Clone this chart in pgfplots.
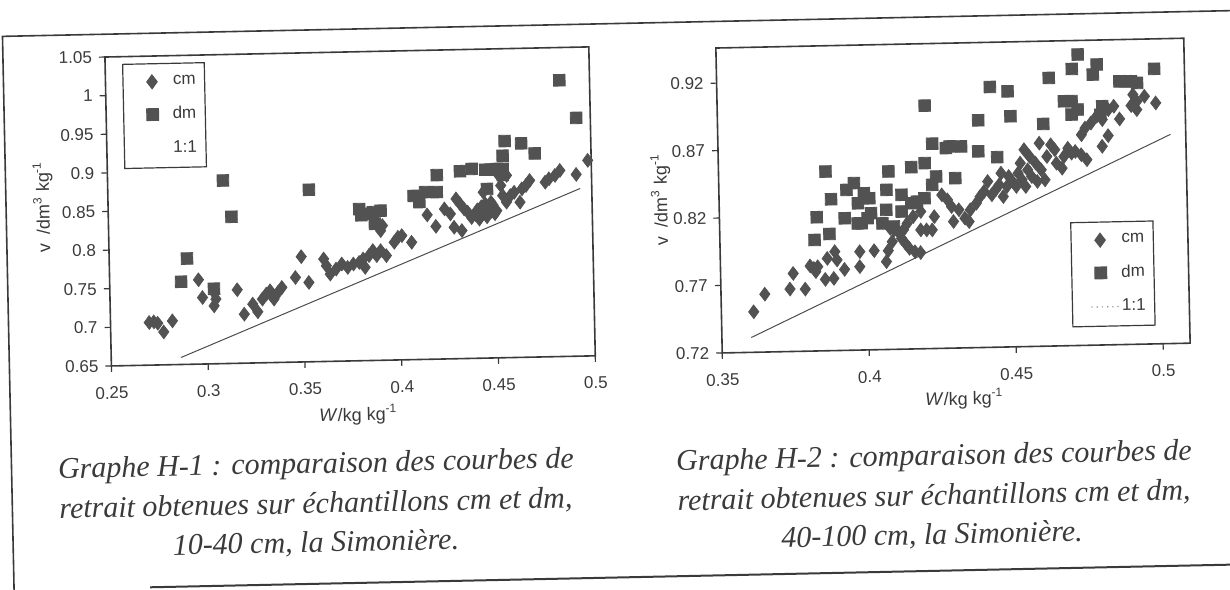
\documentclass[border=0pt]{standalone}
\usepackage{fontspec}
\setmainfont{Liberation Sans}
\newfontfamily\capfont{Liberation Serif}
\usepackage{pgfplots}
\pgfplotsset{compat=1.18}

\definecolor{ink}{HTML}{3A3A3A}
\definecolor{markgray}{HTML}{525252}

\pgfplotsset{
  shrink/.style={
    scale only axis,
    axis line style={line width=0.8pt, draw=ink},
    tick style={line width=0.6pt, draw=ink},
    tick align=outside, major tick length=3pt,
    xtick pos=bottom, ytick pos=left,
    ticklabel style={font=\fontsize{8.5}{10}\selectfont, text=ink},
    xticklabel style={yshift=-4pt},
    label style={font=\fontsize{9}{10}\selectfont, text=ink},
    legend style={draw=ink, line width=0.6pt, fill=white,
      font=\fontsize{8.5}{10}\selectfont, text=ink,
      inner xsep=3.5pt, inner ysep=4pt, row sep=5.5pt,
      nodes={inner xsep=1pt, inner ysep=2pt},
      /tikz/every even column/.append style={column sep=2.5pt}},
    legend cell align=right,
  },
  cm/.style={only marks, mark=diamond*, mark size=3.4pt,
    mark options={fill=markgray, draw=markgray},
    legend image code/.code={\path[draw=none, fill=none] (0pt,0pt) -- (20pt,0pt);
      \draw[##1] plot coordinates {(11pt,0pt)};}},
  dm/.style={only marks, mark=square*, mark size=2.9pt,
    mark options={fill=markgray, draw=markgray},
    legend image code/.code={\path[draw=none, fill=none] (0pt,0pt) -- (20pt,0pt);
      \draw[##1] plot coordinates {(11pt,0pt)};}},
  oneone/.style={no marks, line width=0.5pt, draw=black!70},
}

\begin{document}
\begin{tikzpicture}
\useasboundingbox (0,0) rectangle (615pt,294.5pt);
\begin{scope}[transform canvas={rotate around={1.2:(307.5pt,147.25pt)}}]

% page frame
\draw[line width=0.8pt, ink] (4pt,-10pt) -- (4pt,282.7pt) -- (630pt,282.7pt);
\draw[line width=1pt, ink] (72pt,5.75pt) -- (630pt,5.75pt);

% ---------- Graphe H-1 ----------
\begin{axis}[shrink,
  at={(55pt,116.8pt)}, anchor=south west,
  width=242pt, height=154.5pt,
  xmin=0.25, xmax=0.5, ymin=0.65, ymax=1.05,
  xtick={0.25,0.3,0.35,0.4,0.45,0.5},
  xticklabels={0.25,0.3,0.35,0.4,0.45,0.5},
  ytick={0.65,0.7,0.75,0.8,0.85,0.9,0.95,1,1.05},
  yticklabels={0.65,0.7,0.75,0.8,0.85,0.9,0.95,1,1.05},
  xlabel={\textit{W}/kg kg\textsuperscript{-1}},
  ylabel={v\enspace/dm\textsuperscript{3} kg\textsuperscript{-1}},
  xlabel style={at={(axis description cs:0.508,0)}, anchor=center, yshift=-27pt},
  ylabel style={at={(axis description cs:-0.134,0.519)}, anchor=center},
  legend style={at={(0.035,0.977)}, anchor=north west},
]
\addplot[cm] table {
0.2700 0.7052
0.2724 0.7059
0.2744 0.7040
0.2774 0.6926
0.2820 0.7067
0.2959 0.7592
0.2978 0.7361
0.3038 0.7422
0.3047 0.7337
0.3037 0.7250
0.3158 0.7452
0.3192 0.7134
0.3237 0.7262
0.3262 0.7161
0.3287 0.7324
0.3308 0.7388
0.3328 0.7430
0.3338 0.7365
0.3347 0.7321
0.3368 0.7405
0.3389 0.7470
0.3460 0.7595
0.3492 0.7863
0.3529 0.7527
0.3608 0.7827
0.3621 0.7739
0.3640 0.7630
0.3671 0.7693
0.3701 0.7757
0.3731 0.7711
0.3761 0.7754
0.3791 0.7773
0.3812 0.7816
0.3821 0.7707
0.3842 0.7858
0.3863 0.7922
0.3882 0.7856
0.3903 0.7919
0.3932 0.7853
0.3905 0.8178
0.3915 0.8243
0.3974 0.8024
0.3994 0.8088
0.4014 0.8108
0.4064 0.8019
0.4147 0.8369
0.4191 0.8219
0.4237 0.8442
0.4267 0.8376
0.4298 0.8569
0.4318 0.8503
0.4285 0.8202
0.4325 0.8157
0.4338 0.8437
0.4357 0.8394
0.4376 0.8323
0.4397 0.8362
0.4407 0.8421
0.4416 0.8301
0.4428 0.8460
0.4437 0.8380
0.4448 0.8499
0.4456 0.8329
0.4467 0.8438
0.4477 0.8397
0.4488 0.8477
0.4497 0.8366
0.4439 0.8648
0.4478 0.8517
0.4521 0.8861
0.4561 0.8859
0.4530 0.8730
0.4539 0.8600
0.4507 0.8405
0.4558 0.8513
0.4579 0.8597
0.4599 0.8639
0.4628 0.8509
0.4639 0.8681
0.4660 0.8723
0.4680 0.8787
0.4760 0.8761
0.4780 0.8804
0.4811 0.8845
0.4837 0.8909
0.4921 0.8853
0.4982 0.9032
};
\addlegendentry{cm}
\addplot[dm] table {
0.4844 1.0076
0.4927 0.9585
0.4555 0.9304
0.4640 0.9270
0.4543 0.9115
0.4709 0.9136
0.4321 0.8926
0.4382 0.8953
0.4452 0.8939
0.4482 0.8938
0.4512 0.8946
0.4542 0.8945
0.4541 0.8865
0.4201 0.8882
0.4459 0.8689
0.4079 0.8619
0.4108 0.8537
0.4139 0.8665
0.4199 0.8662
0.3096 0.8870
0.3539 0.8727
0.3136 0.8398
0.3797 0.8463
0.3837 0.8401
0.3867 0.8420
0.3907 0.8437
0.3807 0.8383
0.3876 0.8269
0.2902 0.7870
0.2869 0.7571
0.3038 0.7472
};
\addlegendentry{dm}
\addplot[oneone, legend image code/.code={\path[draw=none, fill=none] (0pt,0pt) -- (20pt,0pt);}] table {
0.286 0.659
0.494 0.867
};
\addlegendentry{1:1}
\end{axis}

% ---------- Graphe H-2 ----------
\begin{axis}[shrink,
  at={(360.5pt,116.9pt)}, anchor=south west,
  width=234pt, height=152.5pt,
  xmin=0.35, xmax=0.5092, ymin=0.72, ymax=0.946,
  xtick={0.35,0.4,0.45,0.5},
  xticklabels={0.35,0.4,0.45,0.5},
  ytick={0.72,0.77,0.82,0.87,0.92},
  yticklabels={0.72,0.77,0.82,0.87,0.92},
  xlabel={\textit{W}/kg kg\textsuperscript{-1}},
  ylabel={v\enspace/dm\textsuperscript{3} kg\textsuperscript{-1}},
  xlabel style={at={(axis description cs:0.515,0)}, anchor=center, yshift=-25.5pt},
  ylabel style={at={(axis description cs:-0.124,0.506)}, anchor=center},
  legend style={at={(0.749,0.405)}, anchor=north west},
]
\addplot[cm] table {
0.3610 0.7500
0.3649 0.7629
0.3735 0.7663
0.3747 0.7778
0.3787 0.7660
0.3805 0.7831
0.3818 0.7812
0.3831 0.7824
0.3824 0.7788
0.3856 0.7729
0.3864 0.7884
0.3890 0.7933
0.3897 0.7871
0.3885 0.7735
0.3922 0.7800
0.3975 0.7929
0.3974 0.7818
0.4024 0.7934
0.4065 0.7851
0.4072 0.7932
0.4086 0.7998
0.4093 0.8085
0.4080 0.8097
0.4106 0.8072
0.4118 0.8021
0.4131 0.7983
0.4144 0.7946
0.4163 0.7920
0.4182 0.7913
0.4125 0.8083
0.4138 0.8131
0.4159 0.8181
0.4185 0.8217
0.4184 0.8081
0.4204 0.8080
0.4223 0.8079
0.4231 0.8177
0.4258 0.8337
0.4277 0.8299
0.4290 0.8249
0.4296 0.8138
0.4315 0.8224
0.4335 0.8161
0.4349 0.8135
0.4354 0.8222
0.4375 0.8270
0.4388 0.8318
0.4402 0.8356
0.4415 0.8429
0.4428 0.8330
0.4441 0.8366
0.4454 0.8403
0.4461 0.8489
0.4467 0.8315
0.4480 0.8389
0.4487 0.8463
0.4499 0.8425
0.4512 0.8388
0.4519 0.8486
0.4527 0.8560
0.4532 0.8436
0.4544 0.8386
0.4552 0.8509
0.4559 0.8608
0.4541 0.8659
0.4565 0.8459
0.4579 0.8558
0.4584 0.8422
0.4593 0.8705
0.4598 0.8507
0.4610 0.8432
0.4618 0.8605
0.4632 0.8691
0.4645 0.8654
0.4650 0.8554
0.4669 0.8516
0.4676 0.8602
0.4690 0.8663
0.4702 0.8626
0.4715 0.8638
0.4735 0.8613
0.4754 0.8575
0.4737 0.8761
0.4750 0.8810
0.4770 0.8846
0.4790 0.8896
0.4809 0.8870
0.4830 0.8943
0.4849 0.8967
0.4807 0.8672
0.4828 0.8750
0.4868 0.8872
0.4908 0.8969
0.4915 0.9050
0.4927 0.8938
0.4954 0.9036
0.4992 0.8985
0.4928 0.9000
};
\addlegendentry{cm}
\addplot[dm] table {
0.4730 0.9356
0.4709 0.9250
0.4794 0.9279
0.4780 0.9205
0.4630 0.9187
0.4989 0.9238
0.4870 0.9151
0.4890 0.9150
0.4910 0.9149
0.4930 0.9136
0.4429 0.9129
0.4489 0.9094
0.4206 0.9001
0.4680 0.9012
0.4706 0.9011
0.4726 0.8948
0.4705 0.8912
0.4810 0.8969
0.4803 0.8907
0.4497 0.8909
0.4387 0.8884
0.4608 0.8847
0.4229 0.8718
0.4275 0.8683
0.4288 0.8695
0.4327 0.8693
0.4385 0.8654
0.4449 0.8608
0.4202 0.8575
0.4156 0.8547
0.4078 0.8519
0.3864 0.8528
0.4240 0.8474
0.4226 0.8413
0.4305 0.8459
0.3960 0.8438
0.3934 0.8389
0.3993 0.8361
0.4011 0.8323
0.4070 0.8383
0.3881 0.8322
0.3972 0.8288
0.4068 0.8235
0.4121 0.8344
0.4120 0.8220
0.4154 0.8280
0.4173 0.8291
0.4199 0.8315
0.4016 0.8212
0.4004 0.8176
0.3983 0.8139
0.3970 0.8139
0.4054 0.8135
0.4093 0.8110
0.3926 0.8179
0.3831 0.8191
0.3873 0.8065
0.3822 0.8023
};
\addlegendentry{dm}
\addplot[oneone, legend image code/.code={\path[draw=none, fill=none] (0pt,0pt) -- (20pt,0pt);
    \draw[line width=0.6pt, draw=black!45, dotted] (6pt,0pt) -- (20pt,0pt);}] table {
0.360 0.731
0.504 0.875
};
\addlegendentry{1:1}
\end{axis}

% captions
\begin{scope}[every node/.style={font=\capfont\itshape\fontsize{15}{18}\selectfont, text=ink}]
\node at (156.2pt,64.65pt) {Graphe H-1 : comparaison des courbes de};
\node at (155.8pt,45.15pt) {retrait obtenues sur échantillons cm et dm,};
\node at (155.4pt,25.65pt) {10-40 cm, la Simonière.};
\node at (465.3pt,62.15pt) {Graphe H-2 : comparaison des courbes de};
\node at (464.9pt,42.65pt) {retrait obtenues sur échantillons cm et dm,};
\node at (463.5pt,23.15pt) {40-100 cm, la Simonière.};
\end{scope}
\end{scope}
\end{tikzpicture}
\end{document}
